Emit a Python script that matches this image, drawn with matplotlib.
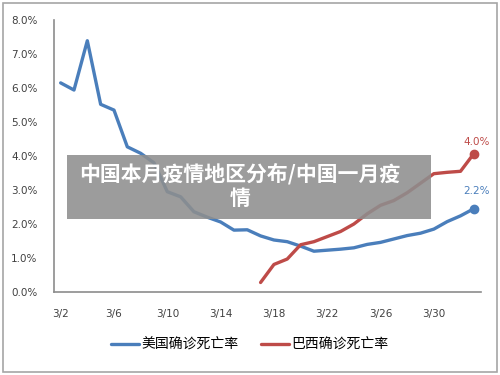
import numpy as np
import matplotlib
matplotlib.use('Agg')
from matplotlib import pyplot as plt
from matplotlib.patches import Rectangle

plt.rcParams['font.family'] = ['Noto Sans CJK SC', 'DejaVu Sans']

# data (death rate, %)
dates = ['3/%d' % d for d in range(2, 32)] + ['4/1', '4/2']
us_rate = [6.15, 5.94, 7.39, 5.52, 5.35, 4.27, 4.08, 3.80, 2.95, 2.80,
           2.36, 2.20, 2.06, 1.82, 1.83, 1.65, 1.53, 1.48, 1.35, 1.20,
           1.23, 1.26, 1.30, 1.40, 1.46, 1.56, 1.66, 1.73, 1.85, 2.07,
           2.24, 2.45]
br_rate = [None] * 15 + [0.28, 0.81, 0.97, 1.39, 1.48, 1.63, 1.78, 2.00,
                         2.30, 2.55, 2.69, 2.92, 3.20, 3.48, 3.52, 3.55,
                         4.07]
series_names = ['美国确诊死亡率', '巴西确诊死亡率']
end_labels = ['2.2%', '4.0%']
yticks = [0, 1, 2, 3, 4, 5, 6, 7, 8]
banner = '中国本月疫情地区分布/中国一月疫\n情'

blue = '#4A7EBB'
red = '#BE4B48'

x = np.arange(len(dates))
us = np.array(us_rate, dtype=float)
br = np.array([np.nan if v is None else v for v in br_rate])

fig = plt.figure(figsize=(5, 3.75), dpi=100)
ax = fig.add_axes([0.108, 0.2213, 0.853, 0.7254])

ax.plot(x, us, color=blue, lw=2.4, solid_capstyle='round',
        solid_joinstyle='round', label=series_names[0])
ax.plot(x, br, color=red, lw=2.4, solid_capstyle='round',
        solid_joinstyle='round', label=series_names[1])
ax.plot(x[-1], us[-1], 'o', color=blue, ms=6)
ax.plot(x[-1], br[-1], 'o', color=red, ms=6)
ax.annotate(end_labels[0], (x[-1], us[-1]), xytext=(2, 9),
            textcoords='offset points', ha='center', va='bottom',
            color=blue, fontsize=7.5, family='DejaVu Sans')
ax.annotate(end_labels[1], (x[-1], br[-1]), xytext=(2, 5),
            textcoords='offset points', ha='center', va='bottom',
            color=red, fontsize=7.5, family='DejaVu Sans')

ax.set_xlim(-0.5, len(dates) - 0.5)
ax.set_ylim(0, 8)
ax.set_yticks(yticks)
ax.set_yticklabels(['%.1f%%' % v for v in yticks], family='DejaVu Sans')
ax.set_xticks(x[::4])
ax.set_xticklabels(dates[::4], family='DejaVu Sans')
ax.tick_params(length=0, labelsize=7.5, colors='#404040')
ax.tick_params(axis='y', pad=12)
ax.tick_params(axis='x', pad=12)
for s in ['top', 'right']:
    ax.spines[s].set_visible(False)
for s in ['left', 'bottom']:
    ax.spines[s].set_color('#8c8c8c')
    ax.spines[s].set_linewidth(1.2)

fig.legend(loc='center', bbox_to_anchor=(0.5, 0.08), ncol=2, frameon=False,
           fontsize=10, handlelength=2.0, handletextpad=0.2,
           columnspacing=1.6)

# grey banner over the chart
fig.patches.append(Rectangle((67 / 500, 1 - 219 / 375), 364 / 500, 64 / 375,
                             transform=fig.transFigure, facecolor='#8e8e8e',
                             alpha=0.88, edgecolor='none', zorder=5))
fig.text(240 / 500, 1 - 186 / 375, banner, ha='center', va='center',
         color='white', fontsize=15, fontweight='bold', linespacing=1.25,
         zorder=6)

# outer frame
fig.patches.append(Rectangle((3 / 500, 3 / 375), 494 / 500, 369 / 375,
                             transform=fig.transFigure, facecolor='none',
                             edgecolor='#a6a6a6', lw=1.2))

fig.savefig('out.png', dpi=100)
